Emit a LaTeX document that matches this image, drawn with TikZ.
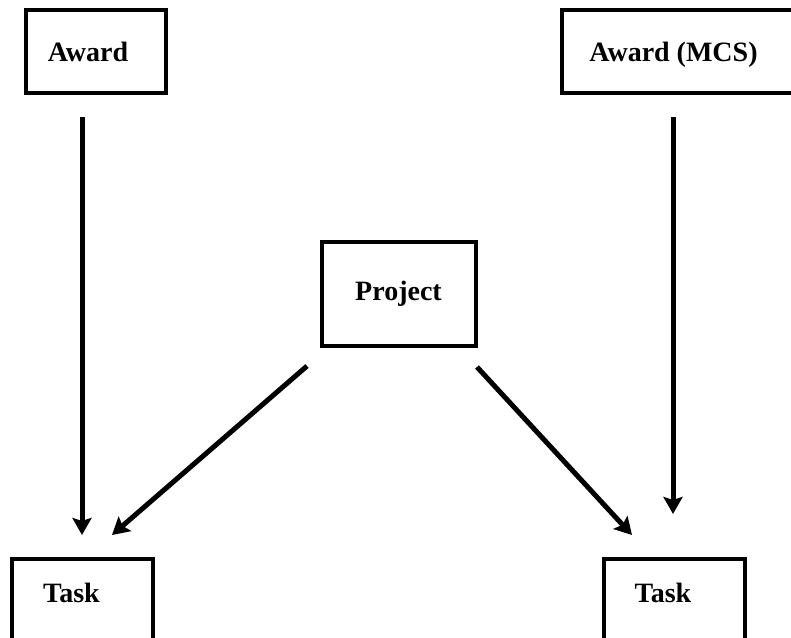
\documentclass[tikz,border=0pt]{standalone}
\usepackage{fontspec}
\setmainfont{Liberation Serif}
\usetikzlibrary{arrows.meta}

\begin{document}
\begin{tikzpicture}[x=1pt,y=-1pt,
		box/.style={draw,line width=4pt,inner sep=0pt},
		lbl/.style={anchor=base,inner sep=0pt,font=\fontsize{28}{33}\selectfont\bfseries},
		arr/.style={line width=5pt,-{Stealth[length=17pt,width=19pt,inset=3pt]}}]
			\path[use as bounding box,clip] (0,0) rectangle (791,637);
			% boxes
			\node[box,minimum width=140,minimum height=83] (award) at (96,51.5) {};
			\node[box,minimum width=256,minimum height=83] (awardmcs) at (690,51.5) {};
			\node[box,minimum width=154,minimum height=104] (project) at (399,294) {};
			\node[box,minimum width=141,minimum height=121] (taskl) at (82.5,619.5) {};
			\node[box,minimum width=141,minimum height=121] (taskr) at (674.5,619.5) {};
			\node[lbl] (awardtxt) at (88,61) {Award};
			\node[lbl] (awardmcstxt) at (673.5,61) {Award (MCS)};
			\node[lbl] (projecttxt) at (398.5,300) {Project};
			\node[lbl] (tasklt) at (71.5,602) {Task};
			\node[lbl] (taskrt) at (663,602) {Task};
			% arrow ends
			\coordinate (a1) at (82,117);
			\coordinate (t1) at (82,535);
			\coordinate (p1) at (307,366);
			\coordinate (t2) at (112,535);
			\coordinate (p2) at (477,367);
			\coordinate (t3) at (632,535);
			\coordinate (a2) at (673,117);
			\coordinate (t4) at (673,514);
			\draw[arr] (a1) -- (t1);
			\draw[arr] (p1) -- (t2);
			\draw[arr] (p2) -- (t3);
			\draw[arr] (a2) -- (t4);
		\end{tikzpicture}
\end{document}
